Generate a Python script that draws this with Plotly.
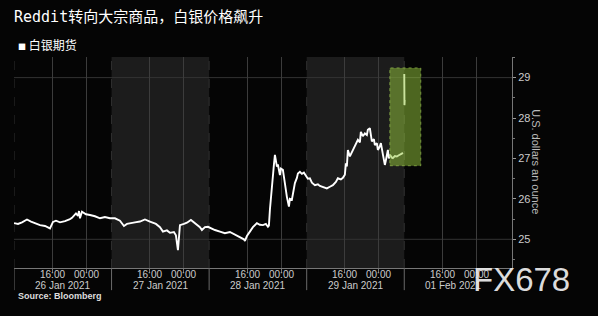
import plotly.graph_objects as go

# ---- data (x = trading-session hours from start of 26 Jan session; each session = 23h) ----
hours = [0, 0.94, 1.89, 3.06, 4.01, 5.18, 6.13, 7.31, 8.48, 9.19, 9.90, 10.84, 12.02, 13.20, 13.67,
         14.61, 15.08, 15.32, 15.55, 16.02, 16.97, 17.91, 19.09, 20.27, 21.44, 22.62, 23.80, 24.98,
         25.92, 26.63, 27.34, 28.51, 29.69, 30.87, 32.05, 33.46, 34.41, 35.11, 36.05, 36.76, 37.70,
         38.17, 38.65, 38.88, 39.12, 40.06, 40.77, 41.71, 42.18, 42.89, 43.83, 44.30, 45.01, 45.72,
         46.66, 47.37, 48.55, 49.72, 50.90, 52.08, 53.26, 54.20, 54.44, 54.91, 55.61, 56.32, 57.26,
         57.97, 58.68, 59.38, 59.86, 60.09, 60.33, 60.56, 60.80, 61.04, 61.27, 61.51, 61.74, 61.98,
         62.21, 62.69, 62.92, 63.39, 63.63, 64.10, 64.33, 64.81, 65.04, 65.51, 66.22, 66.69, 66.93,
         67.40, 67.87, 68.34, 68.81, 69.28, 69.75, 70.23, 70.93, 71.64, 72.11, 72.82, 73.76, 74.47,
         75.17, 75.88, 76.35, 77.06, 77.53, 78.00, 78.24, 78.47, 78.71, 79.18, 79.65, 80.36, 81.07,
         81.54, 81.77, 82.24, 82.71, 83.19, 83.42, 83.89, 84.13, 84.36, 84.84, 85.07, 85.54, 85.78,
         86.25, 86.49, 86.96, 87.43, 87.66, 88.14, 88.37, 88.61, 89.08, 89.31, 89.78, 90.25, 90.72,
         90.96, 91.43, 91.67, None, 92.0, 92.05, 92.1]
prices = [25.40, 25.38, 25.42, 25.49, 25.44, 25.40, 25.35, 25.33, 25.27, 25.43, 25.46, 25.42, 25.45,
          25.50, 25.53, 25.64, 25.58, 25.70, 25.52, 25.68, 25.62, 25.60, 25.57, 25.52, 25.55, 25.52,
          25.52, 25.46, 25.33, 25.38, 25.40, 25.42, 25.44, 25.49, 25.44, 25.38, 25.30, 25.19, 25.22,
          25.16, 25.18, 25.10, 24.73, 25.05, 25.35, 25.38, 25.41, 25.48, 25.44, 25.38, 25.30, 25.23,
          25.30, 25.31, 25.26, 25.23, 25.19, 25.15, 25.18, 25.12, 25.05, 25.00, 24.96, 25.08, 25.19,
          25.30, 25.40, 25.36, 25.35, 25.38, 25.31, 25.34, 25.73, 26.05, 26.39, 26.60, 26.84, 27.09,
          26.90, 26.80, 26.85, 26.59, 26.75, 26.72, 26.55, 26.15, 26.05, 25.81, 26.00, 25.98, 26.39,
          26.52, 26.63, 26.67, 26.62, 26.65, 26.57, 26.50, 26.51, 26.40, 26.34, 26.36, 26.32, 26.30,
          26.26, 26.30, 26.34, 26.42, 26.51, 26.48, 26.52, 26.60, 26.88, 26.80, 27.21, 27.05, 27.15,
          27.29, 27.46, 27.40, 27.66, 27.55, 27.62, 27.58, 27.71, 27.75, 27.55, 27.42, 27.48, 27.33,
          27.38, 27.21, 27.30, 27.38, 27.10, 26.84, 26.95, 27.21, 27.00, 27.09, 27.02, 27.01, 27.06,
          27.05, 27.08, 27.09, 27.12, 27.14, None, 29.09, 28.32, 28.45]

day_labels = ["26 Jan 2021", "27 Jan 2021", "28 Jan 2021", "29 Jan 2021", "01 Feb 2021"]
session_len = 23
time_ticks = [9, 17]
time_labels = ["16:00", "00:00"]
shaded_days = [1, 3]
y_ticks = [25, 26, 27, 28, 29]
highlight_x = [88.6, 95.9]
highlight_y = [26.82, 29.24]

x_range = [0, 117.4]
y_range = [24.29, 29.51]

fig = go.Figure()

fig.add_trace(go.Scatter(x=hours, y=prices, mode="lines",
                         line=dict(color="#ffffff", width=1.9), connectgaps=False,
                         showlegend=False, hoverinfo="skip"))

shapes = []
# shaded sessions
for d in shaded_days:
    shapes.append(dict(type="rect", xref="x", yref="paper", x0=d * session_len, x1=(d + 1) * session_len,
                       y0=0, y1=1, fillcolor="#1c1c1c", line=dict(width=0), layer="below"))
# dashed session boundaries in plot + separators below axis
for d in range(len(day_labels)):
    xb = d * session_len
    shapes.append(dict(type="line", xref="x", yref="paper", x0=xb, x1=xb, y0=0, y1=1,
                       line=dict(color="#303030", width=1, dash="dash"), layer="below"))
    shapes.append(dict(type="line", xref="x", yref="paper", x0=xb, x1=xb, y0=0, y1=-0.105,
                       line=dict(color="#6a6a6a", width=1)))
# horizontal grid lines at 25 and 29
for yv in [25, 29]:
    shapes.append(dict(type="line", xref="paper", yref="y", x0=0, x1=1, y0=yv, y1=yv,
                       line=dict(color="#333333", width=1), layer="below"))
# highlight box
shapes.append(dict(type="rect", xref="x", yref="y", x0=highlight_x[0], x1=highlight_x[1],
                   y0=highlight_y[0], y1=highlight_y[1], fillcolor="rgba(150,200,60,0.5)",
                   line=dict(color="rgba(150,190,80,0.7)", width=1, dash="dot"), layer="above"))

tickvals, ticktext = [], []
for d in range(len(day_labels)):
    for t, lab in zip(time_ticks, time_labels):
        tickvals.append(d * session_len + t)
        ticktext.append(lab)

annotations = [
    dict(text="Reddit转向大宗商品，白银价格飙升", xref="paper", yref="paper", x=-0.004, y=1.19,
         xanchor="left", yanchor="middle", showarrow=False,
         font=dict(family="DejaVu Sans Mono, Noto Sans CJK SC", size=15, color="#ffffff")),
    dict(text="<span style='font-size:8px'>■</span> 白银期货", xref="paper", yref="paper", x=0.004, y=1.057,
         xanchor="left", yanchor="middle", showarrow=False,
         font=dict(family="Noto Sans CJK SC", size=12, color="#ffffff")),
    dict(text="<b>Source: Bloomberg</b>", xref="paper", yref="paper", x=0.004, y=-0.133,
         xanchor="left", yanchor="middle", showarrow=False,
         font=dict(family="Liberation Sans, Arial", size=9, color="#dddddd")),
    dict(text="U.S. dollars an ounce", xref="paper", yref="paper", x=1.048, y=0.502,
         xanchor="center", yanchor="middle", showarrow=False, textangle=90,
         font=dict(family="Liberation Sans, Arial", size=11, color="#bbbbbb")),
]
# time-of-day labels just below the axis
for v, lab in zip(tickvals, ticktext):
    annotations.append(dict(text=lab, xref="x", yref="paper", x=v, y=-0.031,
                            xanchor="center", yanchor="middle", showarrow=False,
                            font=dict(family="Liberation Sans, Arial", size=10, color="#cccccc")))
# session date labels
for d, lab in enumerate(day_labels):
    annotations.append(dict(text=lab, xref="x", yref="paper", x=d * session_len + session_len / 2,
                            y=-0.083, xanchor="center", yanchor="middle", showarrow=False,
                            font=dict(family="Liberation Sans, Arial", size=10, color="#cccccc")))
# watermark on top
annotations.append(dict(text="FX678", xref="paper", yref="paper", x=0.917, y=-0.055,
                        xanchor="left", yanchor="middle", showarrow=False,
                        font=dict(family="Liberation Sans, Arial", size=33, color="rgba(235,235,235,0.95)")))

fig.update_layout(
    width=598, height=316,
    margin=dict(l=14, r=86, t=57, b=48),
    paper_bgcolor="#050505", plot_bgcolor="#050505",
    shapes=shapes, annotations=annotations, showlegend=False,
    xaxis=dict(range=x_range, tickmode="array", tickvals=tickvals, showticklabels=False,
               showgrid=True, gridcolor="#3c3c3c", gridwidth=1, zeroline=False,
               showline=True, linecolor="#777777", linewidth=1,
               ticks="outside", ticklen=3, tickcolor="#777777"),
    yaxis=dict(range=y_range, side="right", tickmode="array", tickvals=y_ticks,
               showgrid=False, zeroline=False, showline=True, linecolor="#777777", linewidth=1,
               ticks="outside", ticklen=3, tickcolor="#999999",
               tickfont=dict(family="Liberation Sans, Arial", size=11, color="#cccccc"),
               minor=dict(tickmode="array", tickvals=[24.5, 25.5, 26.5, 27.5, 28.5, 29.5],
                          ticks="outside", ticklen=2, tickcolor="#777777")),
)

fig.write_html("out.html")
